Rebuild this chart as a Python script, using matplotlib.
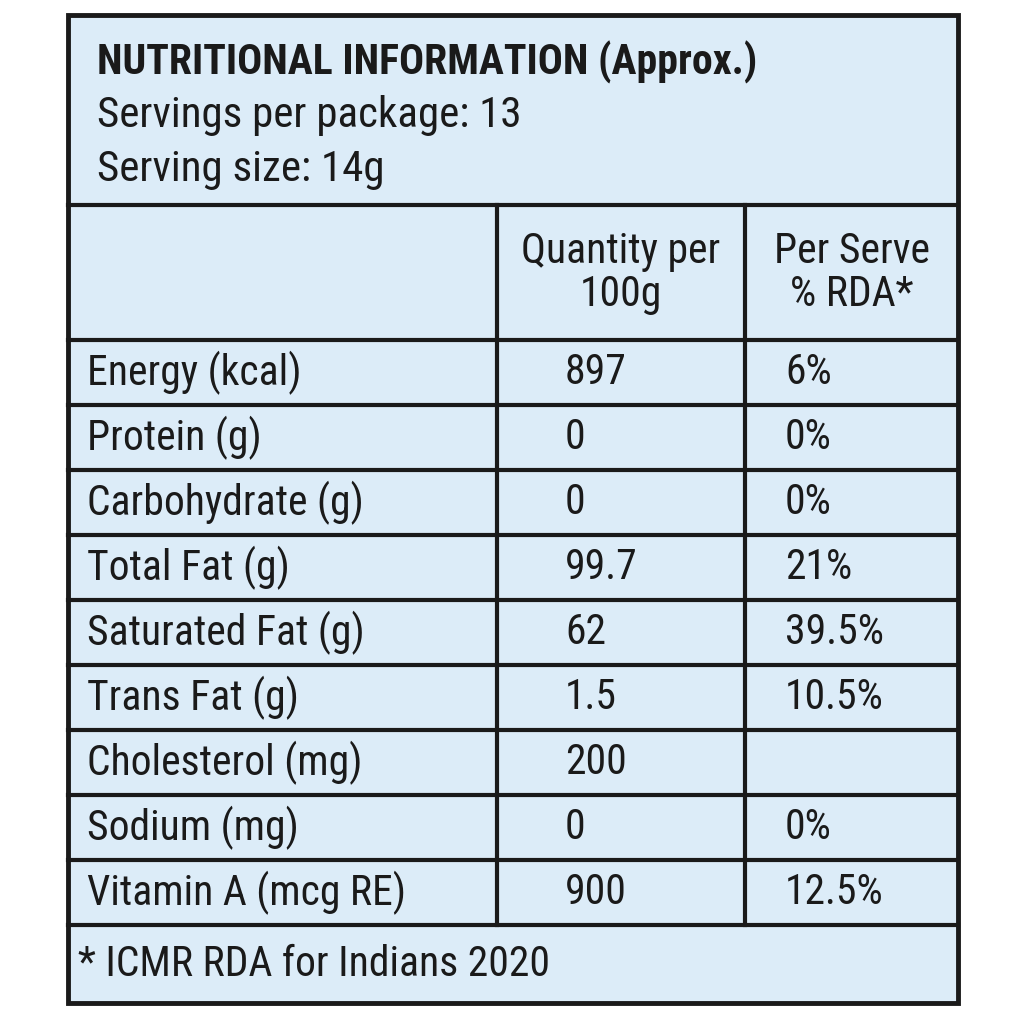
import matplotlib
matplotlib.use('Agg')
import matplotlib.pyplot as plt
from matplotlib import font_manager

names = {f.name for f in font_manager.fontManager.ttflist}
narrow = [n for n in ['Liberation Sans Narrow', 'Roboto Condensed', 'DejaVu Sans Condensed',
                      'Open Sans Condensed'] if n in names]
cond_dejavu = any(f.name == 'DejaVu Sans' and str(f.stretch) in ('condensed', 'semi-condensed')
                  for f in font_manager.fontManager.ttflist)
if narrow:
    font, stretch, k = narrow[0], 'normal', 1.0
elif cond_dejavu:
    font, stretch, k = 'DejaVu Sans', 'condensed', 0.9
else:
    font, stretch, k = 'Liberation Sans', 'normal', 0.88

title = 'NUTRITIONAL INFORMATION (Approx.)'
sub_lines = ['Servings per package: 13', 'Serving size: 14g']
col_heads = ['Quantity per\n100g', 'Per Serve\n% RDA*']
nutrients = ['Energy (kcal)', 'Protein (g)', 'Carbohydrate (g)', 'Total Fat (g)',
             'Saturated Fat (g)', 'Trans Fat (g)', 'Cholesterol (mg)', 'Sodium (mg)',
             'Vitamin A (mcg RE)']
per_100g = ['897', '0', '0', '99.7', '62', '1.5', '200', '0', '900']
rda = ['6%', '0%', '0%', '21%', '39.5%', '10.5%', '', '0%', '12.5%']
footnote = '* ICMR RDA for Indians 2020'

bg = '#dcecf8'
ink = '#1a1a1a'

fig = plt.figure(figsize=(10.24, 10.24), dpi=100)
ax = fig.add_axes([0, 0, 1, 1])
ax.set_xlim(0, 1024)
ax.set_ylim(1024, 0)
ax.axis('off')

left, right, top, bottom = 68, 958, 15, 1003
c1, c2 = 497, 745
head_bot, colhead_bot = 205, 340
row_h = 65
foot_top = colhead_bot + row_h * len(nutrients)

ax.add_patch(plt.Rectangle((left, top), right - left, bottom - top, fc=bg, ec=ink, lw=3.5))
for y in [head_bot, foot_top] + [colhead_bot + i * row_h for i in range(len(nutrients))]:
    ax.plot([left, right], [y, y], color=ink, lw=3)
for x in [c1, c2]:
    ax.plot([x, x], [head_bot, foot_top], color=ink, lw=3)

kw = dict(family=font, stretch=stretch, color=ink, va='center')
ax.text(97, 62, title, fontsize=31 * k * 0.97, fontweight='bold', **kw)
for i, s in enumerate(sub_lines):
    ax.text(97, 115 + i * 55, s, fontsize=31 * k, **kw)

ax.text((c1 + c2) / 2, 273, col_heads[0], fontsize=30 * k, ha='center', linespacing=1.05, **kw)
ax.text((c2 + right) / 2, 273, col_heads[1], fontsize=30 * k, ha='center', linespacing=1.05, **kw)

for i, name in enumerate(nutrients):
    y = colhead_bot + i * row_h + row_h / 2
    ax.text(87, y, name, fontsize=30 * k, **kw)
    ax.text(565, y, per_100g[i], fontsize=30 * k, **kw)
    ax.text(785, y, rda[i], fontsize=30 * k, **kw)

ax.text(78, (foot_top + bottom) / 2, footnote, fontsize=30 * k, **kw)

plt.savefig('out.png', dpi=100, facecolor='white')
